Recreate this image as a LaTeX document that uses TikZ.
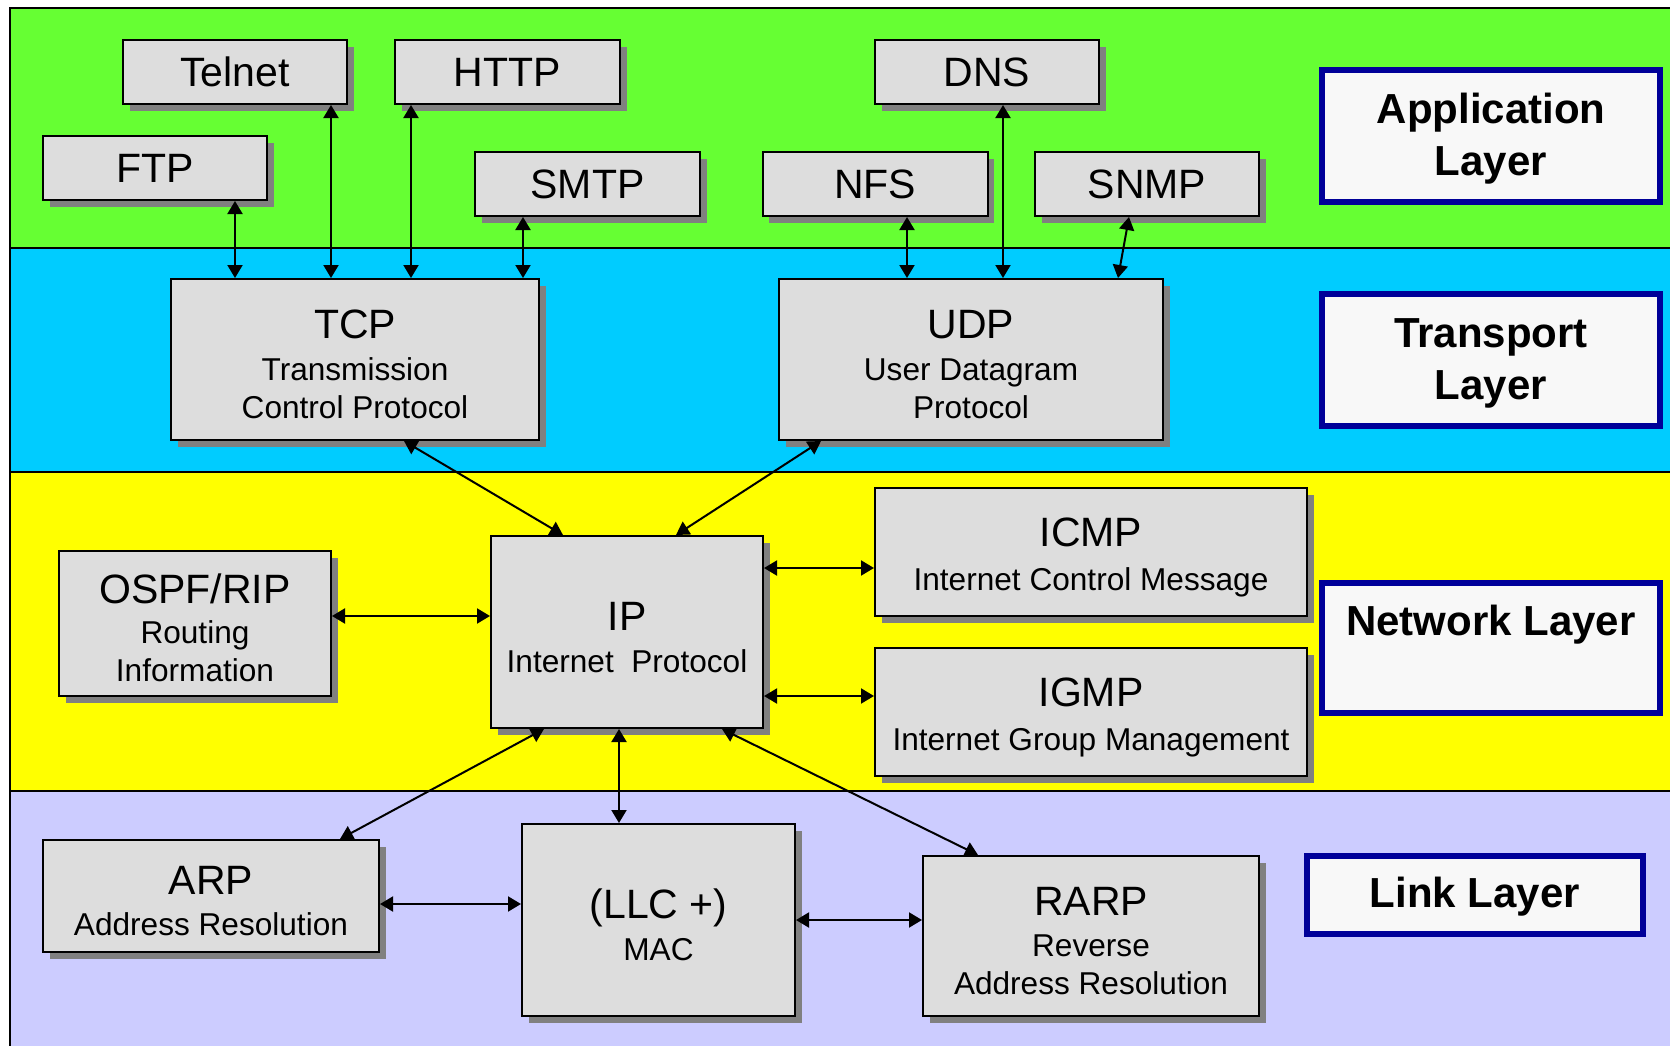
\documentclass[tikz,border=0pt]{standalone}
\usepackage{fontspec}
\setmainfont{Liberation Sans}
\usepackage{tikz}
\usetikzlibrary{arrows.meta,shadows}

\definecolor{appgreen}{RGB}{102,255,51}
\definecolor{transblue}{RGB}{0,204,255}
\definecolor{netyellow}{RGB}{255,255,0}
\definecolor{linkviolet}{RGB}{204,204,255}
\definecolor{boxgray}{RGB}{221,221,221}
\definecolor{shadowgray}{RGB}{128,128,128}
\definecolor{labelnavy}{RGB}{0,0,153}
\definecolor{labelwhite}{RGB}{248,248,248}

\newcommand{\protofont}{\fontsize{20.5}{24}\selectfont}
\newcommand{\headfont}{\fontsize{20.5}{24}\selectfont\rule{0pt}{19.5pt}}
\newcommand{\descfont}{\fontsize{15.8}{19}\selectfont}

\begin{document}
\begin{tikzpicture}[x=0.5pt,y=-0.5pt,
  box/.style={draw, line width=1pt, fill=boxgray, inner sep=0pt, font=\descfont,
    drop shadow={shadow xshift=3.25pt, shadow yshift=-3.25pt, fill=shadowgray, opacity=1}},
  layerbox/.style={draw=labelnavy, line width=3pt, fill=labelwhite, inner sep=0pt,
    minimum width=169pt, font=\bfseries\fontsize{21}{26}\selectfont},
  band/.style={line width=1.25pt},
  flow/.style={<->, >={Triangle[length=6.5pt,width=7.5pt]}, line width=1pt},
  every node/.style={align=center}]

\useasboundingbox (0,0) rectangle (1670,1045);

% The four layers as coloured bands
\fill[appgreen] (10,8) rectangle (1672,248);
\fill[transblue] (10,248) rectangle (1672,472);
\fill[netyellow] (10,472) rectangle (1672,791);
\fill[linkviolet] (10,791) rectangle (1672,1047);
\draw[band] (10,1047) -- (10,8) -- (1672,8);
\draw[band] (10,248) -- (1672,248);
\draw[band] (10,472) -- (1672,472);
\draw[band] (10,791) -- (1672,791);

% Application layer
\node[box, minimum width=112pt, minimum height=32pt] (telnet) at (235,72) {\protofont Telnet};
\node[box, minimum width=112.5pt, minimum height=32pt] (http) at (507.5,72) {\protofont HTTP};
\node[box, minimum width=112pt, minimum height=32pt] (ftp) at (155,168) {\protofont FTP};
\node[box, minimum width=112.5pt, minimum height=32pt] (smtp) at (587.5,184) {\protofont SMTP};
\node[box, minimum width=112pt, minimum height=32pt] (dns) at (987,72) {\protofont DNS};
\node[box, minimum width=112.5pt, minimum height=32pt] (nfs) at (875,184) {\protofont NFS};
\node[box, minimum width=112pt, minimum height=32pt] (snmp) at (1147,184) {\protofont SNMP};

% Transport layer
\node[box, minimum width=184pt, minimum height=80.5pt] (tcp) at (355,359.5)
  {{\headfont TCP}\\[2pt]Transmission\\Control Protocol};
\node[box, minimum width=192pt, minimum height=80.5pt] (udp) at (971,359.5)
  {{\headfont UDP}\\[2pt]User Datagram\\Protocol};

% Network layer
\node[box, minimum width=136pt, minimum height=72.5pt] (ospf) at (195,623.5)
  {{\headfont OSPF/RIP}\\[1pt]Routing\\Information};
\node[box, minimum width=136pt, minimum height=96pt] (ip) at (627,632)
  {{\headfont IP}\\[2pt]Internet\ \ Protocol};
\node[box, minimum width=216pt, minimum height=64pt] (icmp) at (1091,552)
  {{\headfont ICMP}\\[3pt]Internet Control Message};
\node[box, minimum width=216pt, minimum height=64pt] (igmp) at (1091,712)
  {{\headfont IGMP}\\[3pt]Internet Group Management};

% Link layer
\node[box, minimum width=168pt, minimum height=56pt] (arp) at (211,896)
  {{\headfont ARP}\\[1.5pt]Address Resolution};
\node[box, minimum width=136.5pt, minimum height=96pt] (llc) at (658.5,920)
  {{\headfont (LLC +)}\\[2pt]MAC};
\node[box, minimum width=168pt, minimum height=80pt] (rarp) at (1091,936)
  {{\headfont RARP}\\[1.5pt]Reverse\\Address Resolution};

% Layer names
\node[layerbox, minimum height=66pt] (applayer) at (1491,136) {\rule{0pt}{17.5pt}Application\\Layer};
\node[layerbox, minimum height=66pt] (translayer) at (1491,360) {\rule{0pt}{17.5pt}Transport\\Layer};
\node[layerbox, minimum height=65pt] (netlayer) at (1491,648) {Network Layer\\\rule[-2pt]{0pt}{2pt}};
\node[layerbox, minimum width=168pt, minimum height=39pt] (linklayer) at (1475,895) {\rule{0pt}{17pt}Link Layer};

% Connections between the protocols
\draw[flow] ([xshift=-60pt]tcp.north) -- ([xshift=-60pt]tcp.north |- ftp.south);
\draw[flow] ([xshift=-12pt]tcp.north) -- ([xshift=-12pt]tcp.north |- telnet.south);
\draw[flow] ([xshift=28pt]tcp.north) -- ([xshift=28pt]tcp.north |- http.south);
\draw[flow] ([xshift=84pt]tcp.north) -- ([xshift=84pt]tcp.north |- smtp.south);
\draw[flow] ([xshift=-32pt]udp.north) -- ([xshift=-32pt]udp.north |- nfs.south);
\draw[flow] ([xshift=16pt]udp.north) -- ([xshift=16pt]udp.north |- dns.south);
\draw[flow] ([xshift=73.5pt]udp.north) -- ([xshift=-9pt]snmp.south);
\draw[flow] ([xshift=24.5pt]tcp.south) -- ([xshift=-32pt]ip.north);
\draw[flow] ([xshift=-75pt]udp.south) -- ([xshift=24.5pt]ip.north);
\draw[flow] ([yshift=3.75pt]ospf.east) -- ([yshift=3.75pt]ospf.east -| ip.west);
\draw[flow] ([yshift=-8pt]icmp.west) -- ([yshift=-8pt]icmp.west -| ip.east);
\draw[flow] ([yshift=8pt]igmp.west) -- ([yshift=8pt]igmp.west -| ip.east);
\draw[flow] ([xshift=-41.5pt]ip.south) -- ([xshift=64.5pt]arp.north);
\draw[flow] ([xshift=-19.75pt]llc.north) -- ([xshift=-19.75pt]llc.north |- ip.south);
\draw[flow] ([xshift=47.5pt]ip.south) -- ([xshift=-56.5pt]rarp.north);
\draw[flow] ([yshift=-4pt]arp.east) -- ([yshift=-4pt]arp.east -| llc.west);
\draw[flow] (llc.east) -- (llc.east -| rarp.west);

\end{tikzpicture}
\end{document}
